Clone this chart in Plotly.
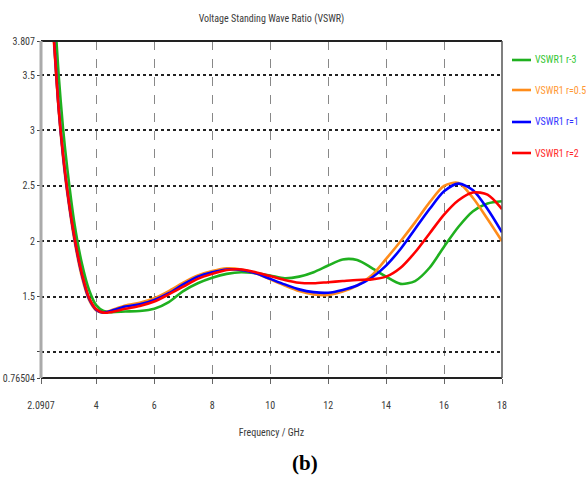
import plotly.graph_objects as go

freq = [2.4, 2.55, 2.7, 2.85, 3.0, 3.25, 3.5, 3.75, 4.0, 4.25, 4.5, 5.0, 5.5, 6.0,
        6.5, 7.0, 7.5, 8.0, 8.5, 9.0, 9.5, 10.0, 10.5, 11.0, 11.5, 12.0, 12.5,
        13.0, 13.5, 14.0, 14.5, 15.0, 15.5, 16.0, 16.5, 17.0, 17.5, 18.0]

vswr_r3 = [4.6, 4.1, 3.5, 3.02, 2.65, 2.15, 1.8, 1.56, 1.42, 1.37, 1.36, 1.365, 1.37, 1.39,
           1.45, 1.55, 1.62, 1.67, 1.705, 1.72, 1.71, 1.69, 1.665, 1.68, 1.72, 1.78, 1.835,
           1.83, 1.76, 1.68, 1.615, 1.64, 1.76, 1.95, 2.13, 2.27, 2.34, 2.36]
vswr_r05 = [4.35, 3.75, 3.18, 2.76, 2.43, 2.0, 1.68, 1.47, 1.375, 1.355, 1.375, 1.42, 1.445, 1.485,
            1.55, 1.625, 1.69, 1.73, 1.755, 1.745, 1.71, 1.655, 1.6, 1.55, 1.52, 1.515, 1.545,
            1.6, 1.69, 1.84, 2.0, 2.17, 2.35, 2.5, 2.525, 2.39, 2.2, 2.0]
vswr_r1 = [4.4, 3.78, 3.2, 2.78, 2.45, 2.02, 1.7, 1.48, 1.38, 1.355, 1.37, 1.41, 1.43, 1.47,
           1.53, 1.61, 1.68, 1.72, 1.745, 1.74, 1.71, 1.66, 1.61, 1.565, 1.54, 1.535, 1.56,
           1.6, 1.67, 1.78, 1.93, 2.11, 2.29, 2.45, 2.52, 2.46, 2.29, 2.08]
vswr_r2 = [4.35, 3.77, 3.2, 2.79, 2.46, 2.03, 1.71, 1.49, 1.385, 1.355, 1.36, 1.39, 1.415, 1.455,
           1.52, 1.59, 1.66, 1.705, 1.74, 1.745, 1.72, 1.685, 1.65, 1.625, 1.62, 1.63, 1.64,
           1.65, 1.655, 1.68, 1.76, 1.9, 2.07, 2.24, 2.37, 2.44, 2.42, 2.29]

series_names = ["VSWR1 r-3", "VSWR1 r=0.5", "VSWR1 r=1", "VSWR1 r=2"]
series_values = [vswr_r3, vswr_r05, vswr_r1, vswr_r2]
line_colors = ["#1fb01f", "#ff8c1a", "#0000ff", "#ff0000"]
text_colors = ["#33c633", "#ff9933", "#3333ff", "#ff2a2a"]

x_tickvals = [2.0907, 4, 6, 8, 10, 12, 14, 16, 18]
x_ticktext = ["2.0907", "4", "6", "8", "10", "12", "14", "16", "18"]
y_tickvals = [0.76504, 1, 1.5, 2, 2.5, 3, 3.5, 3.807]
y_ticktext = ["0.76504", "", "1.5", "2", "2.5", "3", "3.5", "3.807"]

font_family = "Roboto Condensed, Liberation Sans, sans-serif"
base_font = dict(family=font_family, size=10, color="#3a3a3a")

# plot area in pixels (for placing the hand-drawn legend)
L, R, T, B = 41, 502, 41, 378
W, H = R - L, B - T
legend_y_px = [60, 90, 122, 153]

fig = go.Figure()
for i, (name, vals) in enumerate(zip(series_names, series_values)):
    fig.add_trace(go.Scatter(
        x=freq, y=vals, mode="lines", name=name, showlegend=False,
        line=dict(color=line_colors[i], width=2.6, shape="spline", smoothing=0.8),
    ))

shapes = [
    dict(type="line", xref="paper", yref="paper", x0=0, x1=1, y0=1, y1=1,
         line=dict(color="#222222", width=2)),
    dict(type="line", xref="paper", yref="paper", x0=0, x1=1, y0=0, y1=0,
         line=dict(color="#222222", width=2)),
    dict(type="line", xref="paper", yref="paper", x0=0, x1=0, y0=0, y1=1,
         line=dict(color="#aaaaaa", width=3)),
    dict(type="line", xref="paper", yref="paper", x0=1, x1=1, y0=0, y1=1,
         line=dict(color="#555555", width=1.5)),
]
annotations = [
    dict(text="<b>(b)</b>", xref="paper", yref="paper",
         x=(305 - L) / W, y=-(463 - B) / H, xanchor="center", yanchor="middle",
         showarrow=False, font=dict(family="Liberation Serif, Times New Roman, serif",
                                     size=21, color="#000000")),
]
for i, name in enumerate(series_names):
    yy = (B - legend_y_px[i]) / H
    shapes.append(dict(type="line", xref="paper", yref="paper",
                       x0=(512 - L) / W, x1=(531 - L) / W, y0=yy, y1=yy,
                       line=dict(color=line_colors[i], width=2.6)))
    annotations.append(dict(text=name, xref="paper", yref="paper",
                            x=(533 - L) / W, y=yy, xanchor="left", yanchor="middle",
                            showarrow=False,
                            font=dict(family=font_family, size=10, color=text_colors[i])))

fig.update_layout(
    width=586, height=480,
    margin=dict(l=L, r=586 - R, t=T, b=480 - B, autoexpand=False),
    paper_bgcolor="white", plot_bgcolor="white",
    font=base_font,
    title=dict(text="Voltage Standing Wave Ratio (VSWR)", x=(L + R) / 2 / 586,
               xanchor="center", y=1 - 18 / 480, yanchor="middle",
               font=base_font),
    xaxis=dict(range=[2.0907, 18], tickvals=x_tickvals, ticktext=x_ticktext,
               showgrid=True, gridcolor="#888888", griddash="dash", gridwidth=1,
               zeroline=False, showline=False, ticks="outside", ticklen=5,
               tickcolor="#666666", tickfont=base_font, ticklabelstandoff=13,
               title=dict(text="Frequency / GHz", standoff=18, font=base_font)),
    yaxis=dict(range=[0.76504, 3.807], tickvals=y_tickvals, ticktext=y_ticktext,
               showgrid=True, gridcolor="#222222", griddash="dot", gridwidth=1.5,
               zeroline=False, showline=False, ticks="outside", ticklen=3,
               tickcolor="#444444", tickfont=base_font),
    shapes=shapes,
    annotations=annotations,
)

fig.write_html("out.html")
